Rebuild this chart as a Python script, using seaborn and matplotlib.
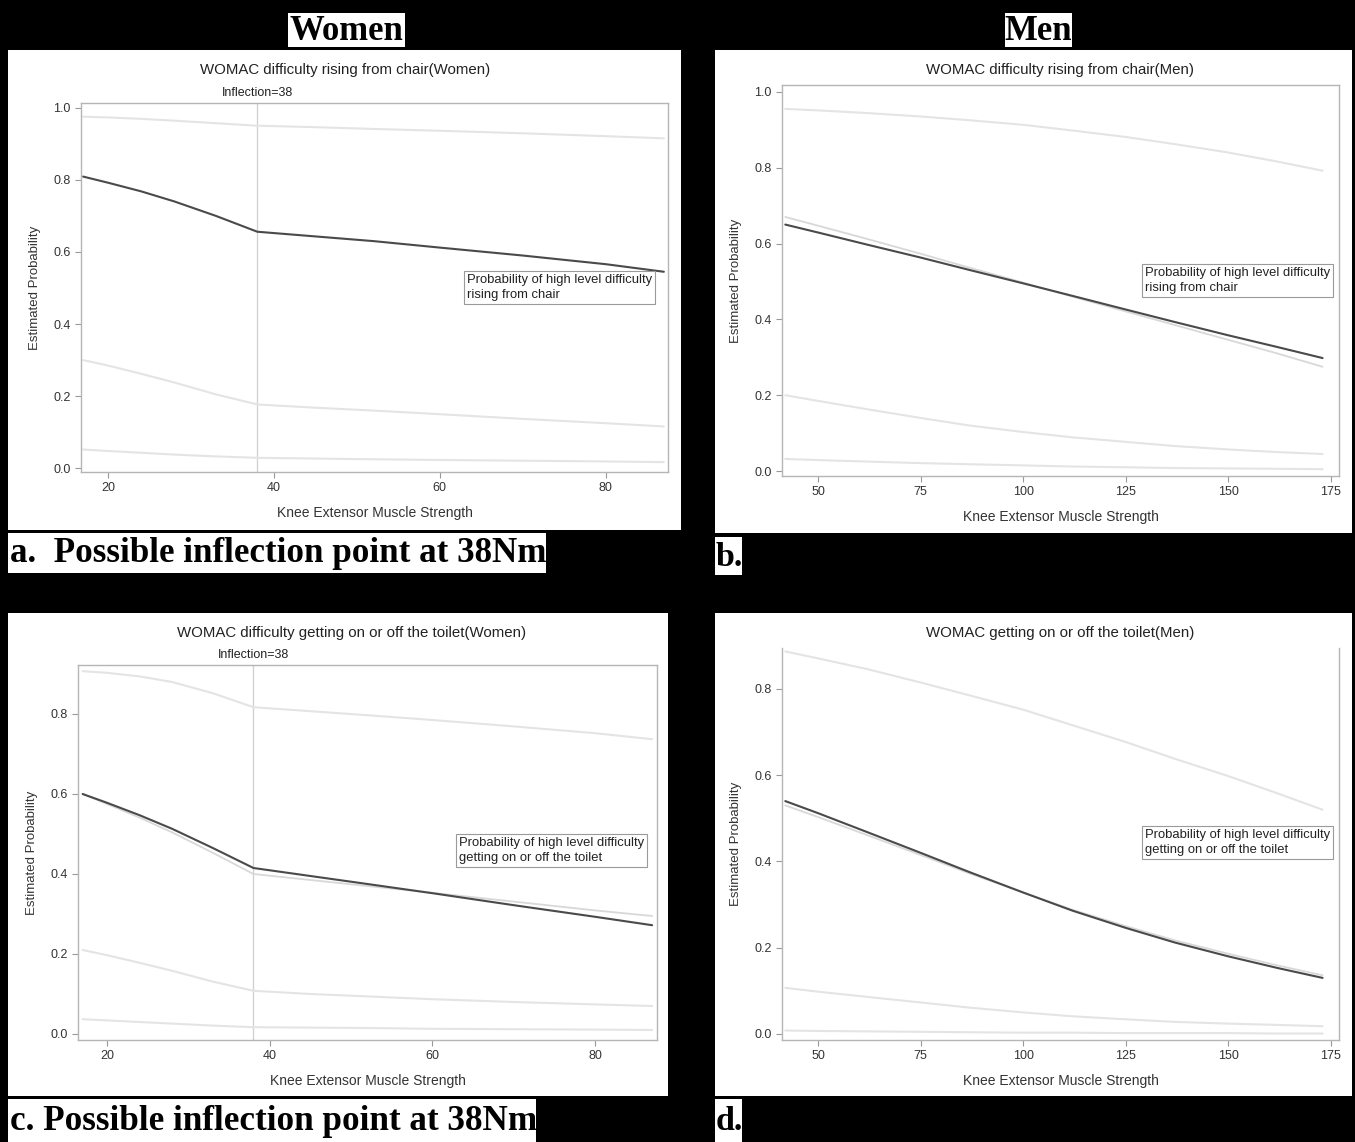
import matplotlib
matplotlib.use("Agg")
import matplotlib.pyplot as plt
from matplotlib.patches import Rectangle
import seaborn as sns

W, H = 1355, 1142

# a. women, difficulty rising from chair
a_strength = [17, 20, 24, 28, 33, 38, 45, 52, 60, 70, 80, 87]
a_prob = [0.809, 0.792, 0.768, 0.740, 0.700, 0.656, 0.643, 0.630, 0.612, 0.590, 0.566, 0.545]
a_ci_hi = [0.975, 0.973, 0.969, 0.964, 0.957, 0.950, 0.946, 0.941, 0.936, 0.929, 0.921, 0.915]
a_ci_lo = [0.300, 0.285, 0.262, 0.238, 0.205, 0.177, 0.168, 0.160, 0.150, 0.137, 0.125, 0.116]
a_base = [0.052, 0.048, 0.043, 0.038, 0.033, 0.029, 0.027, 0.025, 0.023, 0.021, 0.019, 0.017]

# b. men, difficulty rising from chair
b_strength = [42, 50, 62, 75, 87, 100, 112, 125, 137, 150, 162, 173]
b_prob = [0.650, 0.629, 0.597, 0.563, 0.530, 0.495, 0.462, 0.426, 0.393, 0.358, 0.327, 0.298]
b_fit = [0.670, 0.647, 0.612, 0.573, 0.536, 0.497, 0.460, 0.421, 0.385, 0.346, 0.310, 0.275]
b_ci_hi = [0.955, 0.951, 0.944, 0.935, 0.925, 0.913, 0.898, 0.881, 0.862, 0.840, 0.816, 0.792]
b_ci_lo = [0.200, 0.185, 0.163, 0.140, 0.120, 0.103, 0.089, 0.077, 0.066, 0.057, 0.050, 0.045]
b_base = [0.032, 0.029, 0.025, 0.021, 0.018, 0.015, 0.012, 0.010, 0.008, 0.007, 0.006, 0.005]

# c. women, getting on or off the toilet
c_strength = [17, 20, 24, 28, 33, 38, 45, 52, 60, 70, 80, 87]
c_prob = [0.600, 0.578, 0.547, 0.513, 0.465, 0.415, 0.395, 0.375, 0.352, 0.322, 0.293, 0.272]
c_fit = [0.600, 0.575, 0.541, 0.504, 0.453, 0.400, 0.385, 0.370, 0.353, 0.331, 0.309, 0.295]
c_ci_hi = [0.907, 0.903, 0.894, 0.880, 0.852, 0.817, 0.807, 0.797, 0.785, 0.769, 0.752, 0.737]
c_ci_lo = [0.210, 0.197, 0.178, 0.158, 0.131, 0.108, 0.100, 0.094, 0.087, 0.080, 0.074, 0.070]
c_base = [0.037, 0.034, 0.030, 0.026, 0.021, 0.017, 0.016, 0.015, 0.013, 0.012, 0.011, 0.010]

# d. men, getting on or off the toilet
d_strength = [42, 50, 62, 75, 87, 100, 112, 125, 137, 150, 162, 173]
d_prob = [0.540, 0.512, 0.468, 0.420, 0.375, 0.328, 0.286, 0.246, 0.212, 0.180, 0.153, 0.130]
d_fit = [0.530, 0.503, 0.461, 0.415, 0.372, 0.328, 0.288, 0.250, 0.217, 0.186, 0.159, 0.136]
d_ci_hi = [0.887, 0.871, 0.846, 0.815, 0.785, 0.752, 0.716, 0.677, 0.638, 0.598, 0.558, 0.520]
d_ci_lo = [0.107, 0.098, 0.086, 0.073, 0.061, 0.050, 0.041, 0.034, 0.028, 0.024, 0.021, 0.018]
d_base = [0.008, 0.007, 0.006, 0.005, 0.004, 0.003, 0.003, 0.002, 0.002, 0.002, 0.001, 0.001]

women_ticks = [20, 40, 60, 80]
men_ticks = [50, 75, 100, 125, 150, 175]

sns.set_style("white")
plt.rcParams["font.family"] = ["Liberation Sans", "DejaVu Sans"]

fig = plt.figure(figsize=(W / 100, H / 100), dpi=100, facecolor="black")


def box(x0, y0, x1, y1, ec="white", lw=0.0):
    fig.add_artist(Rectangle((x0 / W, 1 - y1 / H), (x1 - x0) / W, (y1 - y0) / H,
                             transform=fig.transFigure, fc="white", ec=ec, lw=lw, zorder=0))


def put_text(x, y, s, **kw):
    fig.text(x / W, 1 - y / H, s, **kw)


def panel(rect, x, lines, xlim, ylim, xticks, yticks, title, title_xy, note, note_xy,
          inflection=None, top_spine=True):
    x0, y0, x1, y1 = rect
    ax = fig.add_axes([x0 / W, 1 - y1 / H, (x1 - x0) / W, (y1 - y0) / H])
    for vals, color, lw in lines:
        sns.lineplot(x=x, y=vals, ax=ax, color=color, linewidth=lw)
    if inflection is not None:
        ax.axvline(inflection, color="#cfcfcf", lw=0.9, zorder=0)
        ax.annotate(f"Inflection={inflection}", xy=(inflection, 1), xycoords=("data", "axes fraction"),
                    xytext=(0, 3), textcoords="offset points", ha="center", va="bottom",
                    fontsize=9, color="#222222")
    ax.set_xlim(*xlim)
    ax.set_ylim(*ylim)
    ax.set_xticks(xticks)
    ax.set_yticks(yticks)
    ax.set_yticklabels([f"{v:.1f}" for v in yticks])
    ax.tick_params(axis="both", length=4, width=0.8, color="#999999", labelsize=9,
                   labelcolor="#333333", direction="out", bottom=True, left=True)
    for side, sp in ax.spines.items():
        sp.set_color("#b5b5b5")
        sp.set_linewidth(1.0)
    ax.spines["top"].set_visible(top_spine)
    ax.set_xlabel("Knee Extensor Muscle Strength", fontsize=10, color="#333333")
    ax.set_ylabel("Estimated Probability", fontsize=9.5, color="#333333")
    ax.xaxis.set_label_coords(0.5, -34 / (y1 - y0))
    ax.yaxis.set_label_coords(-40 / (x1 - x0), 0.5)
    put_text(title_xy[0], title_xy[1], title, ha="center", va="center", fontsize=10.8, color="#222222")
    nx, ny = note_xy
    ax.text((nx - x0) / (x1 - x0), (y1 - ny) / (y1 - y0), note, transform=ax.transAxes,
            ha="left", va="top", fontsize=9.4, color="#222222", linespacing=1.3,
            bbox=dict(boxstyle="square,pad=0.25", fc="white", ec="#9a9a9a", lw=0.8))
    return ax


MAIN, FIT, BAND = "#4a4a4a", "#d8d8d8", "#e4e4e4"

# white backgrounds
box(8, 50, 681, 530)
box(715, 50, 1352, 533)
box(8, 613, 668, 1096)
box(715, 613, 1352, 1096)

# panel headers
serif = dict(family=["Liberation Serif", "DejaVu Serif"], weight="bold", color="black")
box(288, 13, 405, 47)
put_text(346.5, 31, "Women", ha="center", va="center", fontsize=25, **serif)
box(1005, 13, 1072, 47)
put_text(1038.5, 31, "Men", ha="center", va="center", fontsize=25, **serif)

# captions
box(8, 533, 546, 573)
put_text(10, 554, "a.  Possible inflection point at 38Nm", ha="left", va="center", fontsize=25.2, **serif)
box(715, 537, 742, 575)
put_text(716, 557, "b.", ha="left", va="center", fontsize=24.5, **serif)
box(8, 1099, 536, 1142)
put_text(10, 1121, "c. Possible inflection point at 38Nm", ha="left", va="center", fontsize=25.3, **serif)
box(715, 1099, 742, 1142)
put_text(716, 1121, "d.", ha="left", va="center", fontsize=24.5, **serif)

panel((81, 103, 668, 472), a_strength,
      [(a_ci_hi, BAND, 1.5), (a_ci_lo, BAND, 1.5), (a_base, BAND, 1.5), (a_prob, MAIN, 1.5)],
      (16.75, 87.5), (-0.0103, 1.013), women_ticks, [0.0, 0.2, 0.4, 0.6, 0.8, 1.0],
      "WOMAC difficulty rising from chair(Women)", (345, 70),
      "Probability of high level difficulty\nrising from chair", (467, 274), inflection=38)

panel((782, 85, 1339, 476), b_strength,
      [(b_ci_hi, BAND, 1.5), (b_ci_lo, BAND, 1.5), (b_base, BAND, 1.5), (b_fit, FIT, 1.3), (b_prob, MAIN, 1.5)],
      (41.2, 177.0), (-0.013, 1.018), men_ticks, [0.0, 0.2, 0.4, 0.6, 0.8, 1.0],
      "WOMAC difficulty rising from chair(Men)", (1060, 70),
      "Probability of high level difficulty\nrising from chair", (1145, 267))

panel((78, 665, 657, 1040), c_strength,
      [(c_ci_hi, BAND, 1.5), (c_ci_lo, BAND, 1.5), (c_base, BAND, 1.5), (c_fit, FIT, 1.3), (c_prob, MAIN, 1.5)],
      (16.43, 87.6), (-0.015, 0.9225), women_ticks, [0.0, 0.2, 0.4, 0.6, 0.8],
      "WOMAC difficulty getting on or off the toilet(Women)", (352, 633),
      "Probability of high level difficulty\ngetting on or off the toilet", (459, 837), inflection=38)

panel((782, 648, 1339, 1040), d_strength,
      [(d_ci_hi, BAND, 1.5), (d_ci_lo, BAND, 1.5), (d_base, BAND, 1.5), (d_fit, FIT, 1.3), (d_prob, MAIN, 1.5)],
      (41.2, 177.0), (-0.014, 0.895), men_ticks, [0.0, 0.2, 0.4, 0.6, 0.8],
      "WOMAC getting on or off the toilet(Men)", (1060, 633),
      "Probability of high level difficulty\ngetting on or off the toilet", (1145, 829), top_spine=False)

fig.savefig("out.png", dpi=100, facecolor="black")
